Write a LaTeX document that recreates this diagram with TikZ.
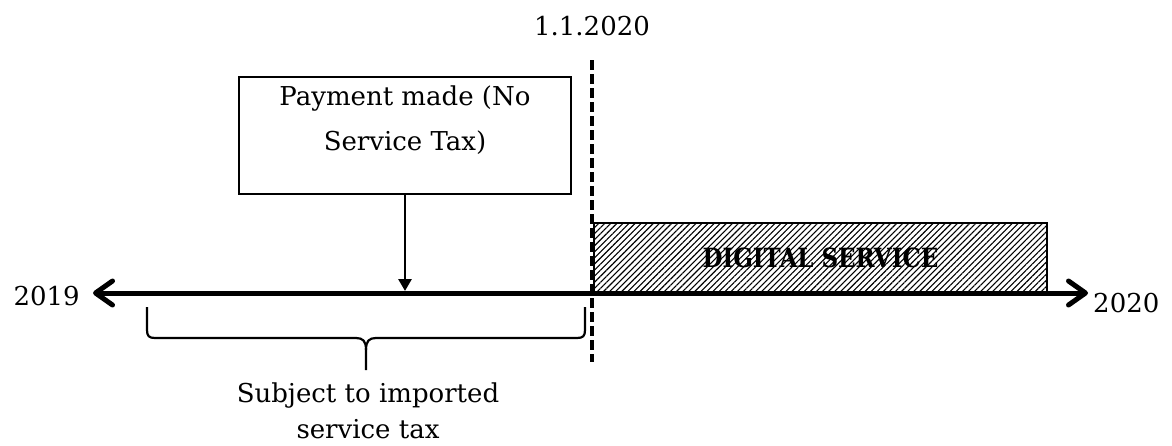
\documentclass[tikz,border=0pt]{standalone}
\usepackage{fontspec}
\setmainfont{DejaVu Serif}
\usetikzlibrary{arrows.meta,patterns.meta}

\tikzset{
  lbl/.style={font=\fontsize{26}{36}\selectfont, inner sep=0pt, anchor=base},
  paybox/.style={draw, line width=1.8pt, minimum width=332pt, minimum height=117pt, inner sep=0pt},
  digbox/.style={draw, line width=2.2pt, minimum width=453pt, minimum height=70pt, inner sep=0pt,
    pattern={Lines[angle=45,distance=4.3pt,line width=1.1pt]},
    font=\fontsize{23}{28}\selectfont\bfseries},
  axisline/.style={line width=5pt, {Straight Barb[length=17pt,width=24pt,round]}-{Straight Barb[length=17pt,width=24pt,round]}},
  dropline/.style={line width=2.8pt, -{Triangle[length=12pt,width=13pt]}},
  cutline/.style={line width=4pt, dash pattern=on 10pt off 4pt},
  bracket/.style={line width=2.2pt, line join=round}
}

\begin{document}
\begin{tikzpicture}[x=1pt,y=-1pt]
\useasboundingbox (0,0) rectangle (1172,445);

% cut-off date marker
\coordinate (dtop) at (592,60);
\coordinate (dbot) at (592,362);
\draw[cutline] (dtop) -- (dbot);
\node[lbl] (date) at (592,35) {1.1.2020};

% payment box and its drop onto the time line
\node[paybox] (pay) at (405,135.5) {};
\node[lbl, align=center, font=\fontsize{26}{45}\selectfont] (paytxt) at (405,150) {Payment made (No\\Service Tax)};
\coordinate (payfoot) at (405,291);
\draw[dropline] (pay.south) -- (payfoot);

% hatched period of the digital service
\node[digbox] (dig) at (820.5,258) {\scalebox{1}[1.15]{DIGITAL SERVICE}};

% time line
\coordinate (axL) at (93,293);
\coordinate (axR) at (1088,293);
\draw[axisline] (axL) -- (axR);
\node[lbl, anchor=base east] (y19) at (80,305) {2019};
\node[lbl, anchor=base west] (y20) at (1093,312) {2020};

% bracket under the taxable period
\coordinate (bl) at (147,307);
\coordinate (br) at (585,307);
\coordinate (bm) at (366,370);
\draw[bracket] (bl) -- (147,330) .. controls (147,336) and (149,338) .. (155,338)
  -- (356,338) .. controls (363,338) and (366,341) .. (366,350) -- (bm);
\draw[bracket] (br) -- (585,330) .. controls (585,336) and (583,338) .. (577,338)
  -- (376,338) .. controls (369,338) and (366,341) .. (366,350);
\node[lbl, align=center] (subj) at (368,438) {Subject to imported\\service tax};
\end{tikzpicture}
\end{document}
